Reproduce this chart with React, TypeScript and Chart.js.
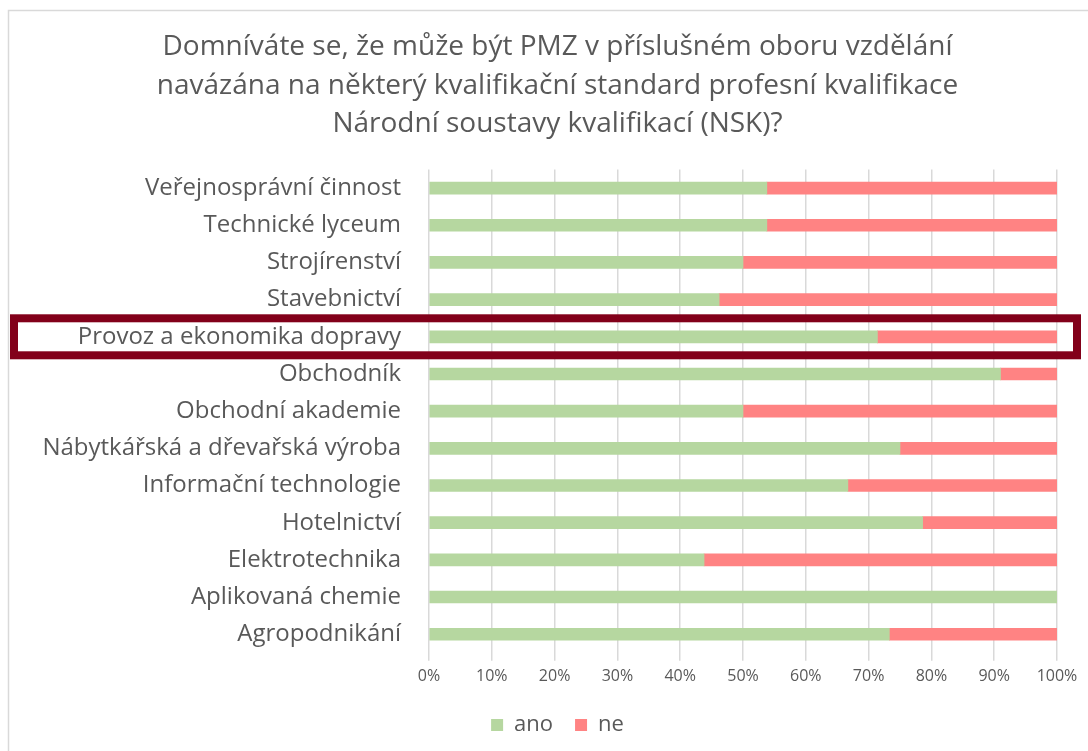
import React, { useEffect, useRef } from "react";
import { Chart, registerables } from "chart.js";

Chart.register(...registerables);

const titleLines = [
  "Domníváte se, že může být PMZ v příslušném oboru vzdělání",
  "navázána na některý kvalifikační standard profesní kvalifikace",
  "Národní soustavy kvalifikací (NSK)?",
];

const categories = [
  "Veřejnosprávní činnost",
  "Technické lyceum",
  "Strojírenství",
  "Stavebnictví",
  "Provoz a ekonomika dopravy",
  "Obchodník",
  "Obchodní akademie",
  "Nábytkářská a dřevařská výroba",
  "Informační technologie",
  "Hotelnictví",
  "Elektrotechnika",
  "Aplikovaná chemie",
  "Agropodnikání",
];

const anoValues = [53.8, 53.8, 50, 46.2, 71.4, 91, 50, 75, 66.7, 78.6, 43.8, 100, 73.3];
const neValues = [46.2, 46.2, 50, 53.8, 28.6, 9, 50, 25, 33.3, 21.4, 56.2, 0, 26.7];

const highlightIndex = 4;

const FONT = "'Open Sans', Lato, sans-serif";
const TEXT = "#595959";
const CENTER_SHIFT = 58;

const decorPlugin = {
  id: "decor",
  afterLayout(chart: any) {
    if (chart.titleBlock) chart.titleBlock.left += CENTER_SHIFT;
    if (chart.legend) chart.legend.left += CENTER_SHIFT;
  },
  beforeDraw(chart: any) {
    const ctx = chart.ctx;
    ctx.save();
    ctx.strokeStyle = "#d9d9d9";
    ctx.lineWidth = 1.5;
    ctx.beginPath();
    ctx.moveTo(8.5, chart.height);
    ctx.lineTo(8.5, 10.5);
    ctx.lineTo(chart.width, 10.5);
    ctx.stroke();
    ctx.restore();
  },
  afterDraw(chart: any) {
    const ctx = chart.ctx;
    const y = chart.scales.y;
    const cy = y.getPixelForValue(highlightIndex);
    ctx.save();
    ctx.strokeStyle = "#82001A";
    ctx.lineWidth = 8;
    ctx.strokeRect(14, cy - 18.5, chart.width - 14 - 11, 37);
    ctx.restore();
  },
};

export default function App() {
  const ref = useRef<HTMLCanvasElement>(null);

  useEffect(() => {
    document.body.style.margin = "0";
    const chart = new Chart(ref.current as HTMLCanvasElement, {
      type: "bar",
      data: {
        labels: categories,
        datasets: [
          { label: "ano", data: anoValues, backgroundColor: "#B6D7A0", barThickness: 12 },
          { label: "ne", data: neValues, backgroundColor: "#FF8383", barThickness: 12 },
        ],
      },
      options: {
        indexAxis: "y",
        animation: false,
        responsive: true,
        maintainAspectRatio: false,
        layout: { padding: { left: 0, right: 31, top: 0, bottom: 5 } },
        plugins: {
          title: {
            display: true,
            text: titleLines,
            color: TEXT,
            font: { family: FONT, size: 28, weight: "normal", lineHeight: 1.375 },
            padding: { top: 28, bottom: 26 },
          },
          legend: {
            position: "bottom",
            labels: {
              color: TEXT,
              font: { family: FONT, size: 22 },
              boxWidth: 12,
              boxHeight: 12,
              padding: 22,
            },
          },
          tooltip: { enabled: false },
        },
        scales: {
          x: {
            stacked: true,
            min: 0,
            max: 100,
            ticks: {
              stepSize: 10,
              color: TEXT,
              font: { family: FONT, size: 16 },
              padding: 6,
              callback: (v: any) => v + "%",
            },
            grid: { color: "#d9d9d9", lineWidth: 1.5, tickLength: 8 },
            border: { display: false },
          },
          y: {
            stacked: true,
            ticks: {
              color: TEXT,
              font: { family: FONT, size: 24 },
              padding: 20,
              autoSkip: false,
            },
            grid: { display: false },
            border: { display: false },
            afterFit: (scale: any) => {
              scale.width = 429;
            },
          },
        },
      },
      plugins: [decorPlugin],
    });
    return () => chart.destroy();
  }, []);

  return (
    <div style={{ position: "absolute", left: 0, top: 0, width: 1088, height: 751, background: "#fff" }}>
      <canvas ref={ref} />
    </div>
  );
}
